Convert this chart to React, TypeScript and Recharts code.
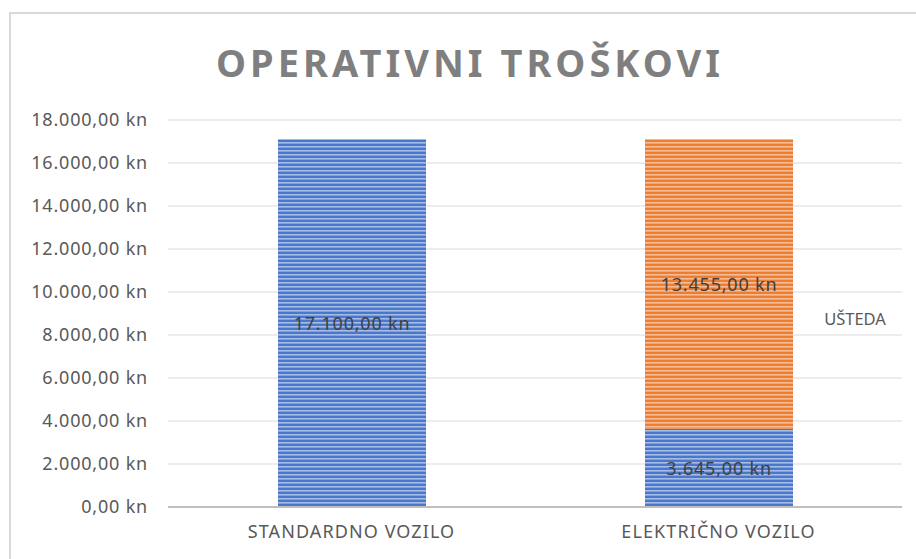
import { BarChart, Bar, XAxis, YAxis, CartesianGrid, LabelList } from "recharts";

// podaci
const categories = ["STANDARDNO VOZILO", "ELEKTRIČNO VOZILO"];
const troskovi = [17100, 3645];
const usteda = [0, 13455];
const yTicks = [0, 2000, 4000, 6000, 8000, 10000, 12000, 14000, 16000, 18000];
const seriesNames = { usteda: "UŠTEDA" };

const data = categories.map((name, i) => ({ name, troskovi: troskovi[i], usteda: usteda[i] }));

const FONT = "'Noto Sans', sans-serif";

function formatKn(v: number) {
  const [int, dec] = v.toFixed(2).split(".");
  return int.replace(/\B(?=(\d{3})+(?!\d))/g, ".") + "," + dec + " kn";
}

function ValueLabel(props: any) {
  const { x, y, width, height, value } = props;
  if (!value) return null;
  return (
    <text
      x={x + width / 2}
      y={y + height / 2}
      textAnchor="middle"
      dominantBaseline="central"
      fill="#404040"
      fontSize={18}
      letterSpacing={0.8}
      fontFamily={FONT}
    >
      {formatKn(value)}
    </text>
  );
}

function UstedaLabel(props: any) {
  const { x, y, width, height, value } = props;
  if (!value) return null;
  return (
    <text
      x={x + width + 62}
      y={y + height / 2 + 35}
      textAnchor="middle"
      dominantBaseline="central"
      fill="#595959"
      fontSize={16.5}
      fontFamily={FONT}
    >
      {seriesNames.usteda}
    </text>
  );
}

export default function App() {
  return (
    <div style={{ position: "absolute", left: 0, top: 0, width: 916, height: 559, overflow: "hidden", background: "#fff" }}>
      <div
        style={{
          position: "absolute",
          left: 9,
          top: 12,
          width: 940,
          height: 580,
          border: "2px solid #d9d9d9",
        }}
      />
      <div
        style={{
          position: "absolute",
          left: 0,
          top: 38,
          width: 940,
          textAlign: "center",
          fontFamily: FONT,
          fontWeight: 700,
          fontSize: 38,
          letterSpacing: 4,
          color: "#7f7f7f",
          lineHeight: "48px",
        }}
      >
        OPERATIVNI TROŠKOVI
      </div>
      <div style={{ position: "absolute", left: 0, top: 0 }}>
        <svg width={0} height={0} style={{ position: "absolute" }}>
          <defs>
            <pattern id="stripeBlue" width={8} height={4} patternUnits="userSpaceOnUse">
              <rect width={8} height={4} fill="#4a77c9" />
              <rect y={2} width={8} height={1.6} fill="#a4bce8" />
            </pattern>
            <pattern id="stripeOrange" width={8} height={4} patternUnits="userSpaceOnUse">
              <rect width={8} height={4} fill="#ed7d31" />
              <rect y={2} width={8} height={1.6} fill="#f7bc94" />
            </pattern>
          </defs>
        </svg>
        <BarChart width={916} height={559} data={data} margin={{ top: 120, right: 14, left: 0, bottom: 22 }}>
          <CartesianGrid vertical={false} stroke="#d9d9d9" />
          <XAxis
            dataKey="name"
            axisLine={{ stroke: "#bfbfbf", strokeWidth: 2 }}
            tickLine={false}
            tickSize={0}
            tickMargin={18}
            tick={{ fill: "#595959", fontSize: 18, fontFamily: FONT, letterSpacing: 1.1 }}
          />
          <YAxis
            width={168}
            domain={[0, 18000]}
            ticks={yTicks}
            axisLine={false}
            tickLine={false}
            tickSize={0}
            tickMargin={20}
            tickFormatter={formatKn}
            tick={{ fill: "#595959", fontSize: 18, fontFamily: FONT, letterSpacing: 0.8 }}
          />
          <Bar dataKey="troskovi" stackId="a" fill="url(#stripeBlue)" barSize={148} isAnimationActive={false}>
            <LabelList dataKey="troskovi" content={ValueLabel} />
          </Bar>
          <Bar dataKey="usteda" stackId="a" fill="url(#stripeOrange)" barSize={148} isAnimationActive={false}>
            <LabelList dataKey="usteda" content={ValueLabel} />
            <LabelList dataKey="usteda" content={UstedaLabel} />
          </Bar>
        </BarChart>
      </div>
    </div>
  );
}
